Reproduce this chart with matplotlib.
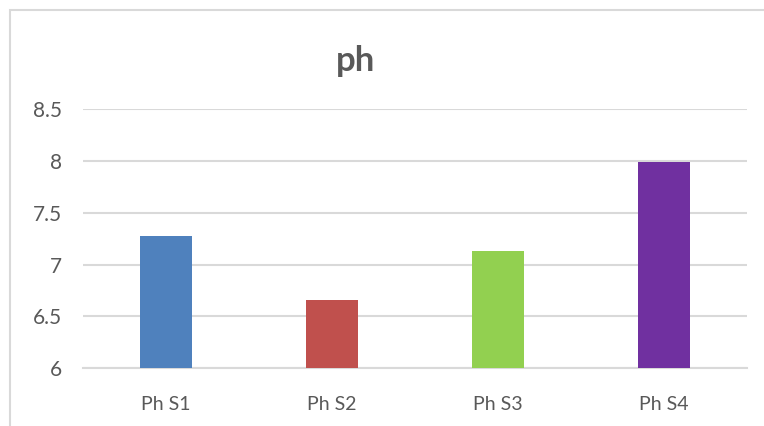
import matplotlib.pyplot as plt
from matplotlib.patches import Rectangle

# data
categories = ["Ph S1", "Ph S2", "Ph S3", "Ph S4"]
values = [7.28, 6.66, 7.13, 7.99]
colors = ["#4f81bd", "#c0504d", "#92d050", "#7030a0"]
yticks = [6, 6.5, 7, 7.5, 8, 8.5]

W, H = 764, 426
plt.rcParams['font.family'] = ['Lato', 'DejaVu Sans']

fig = plt.figure(figsize=(W / 100, H / 100), dpi=100)
ax = fig.add_axes([83 / W, 1 - 368.3 / H, (747 - 83) / W, (368.3 - 109) / H])

ax.bar(range(len(categories)), values, width=0.313, color=colors, zorder=3)
ax.set_ylim(6, 8.5)
ax.set_xlim(-0.5, len(categories) - 0.5)
ax.set_yticks(yticks)
ax.set_yticklabels([f"{t:g}" for t in yticks])
ax.set_xticks(range(len(categories)))
ax.set_xticklabels(categories)

ax.grid(axis='y', color='#d9d9d9', linewidth=1.5, zorder=0)
for s in ['top', 'right', 'left']:
    ax.spines[s].set_visible(False)
ax.spines['bottom'].set_color('#d9d9d9')
ax.spines['bottom'].set_linewidth(1.5)
ax.tick_params(axis='both', length=0, colors='#595959')
ax.tick_params(axis='y', pad=15, labelsize=15)
ax.tick_params(axis='x', pad=20, labelsize=14)

fig.text(356 / W, 1 - 71 / H, "ph", ha='center', va='baseline',
         fontsize=25, fontweight='bold', color='#595959')

# chart border (cut off at right and bottom)
fig.patches.append(Rectangle((9.5 / W, -0.2), 1.2, 1.2 - 9.5 / H,
                             transform=fig.transFigure, fill=False,
                             edgecolor='#d9d9d9', linewidth=1.5))

fig.savefig("out.png", dpi=100)
